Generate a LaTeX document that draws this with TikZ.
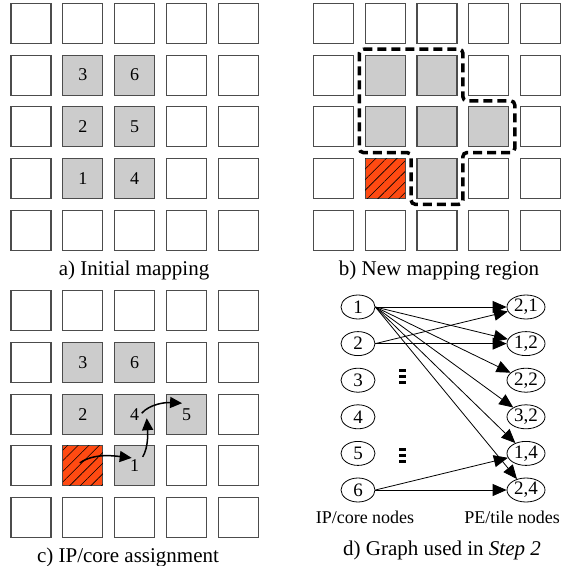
\documentclass[tikz,border=0pt]{standalone}
\usepackage{fontspec}
\setmainfont{Liberation Serif}
\usetikzlibrary{arrows.meta,patterns.meta,calc,shapes.geometric}
\definecolor{cellgray}{HTML}{CCCCCC}
\definecolor{hotred}{HTML}{FF4A12}
\newcommand\mycellnum[2]{\expandafter\def\csname txt-#1\endcsname{#2}}
\mycellnum{a11}{3}\mycellnum{a21}{6}\mycellnum{a12}{2}\mycellnum{a22}{5}\mycellnum{a13}{1}\mycellnum{a23}{4}
\mycellnum{c11}{3}\mycellnum{c21}{6}\mycellnum{c12}{2}\mycellnum{c22}{4}\mycellnum{c32}{5}\mycellnum{c23}{1}
\begin{document}
\begin{tikzpicture}[x=1pt,y=-1pt,
  cell/.style={draw=black!70, line width=1.1pt, minimum size=40pt, inner sep=0pt, font=\fontsize{18}{20}\selectfont},
  busy/.style={fill=cellgray},
  hot/.style={fill=hotred, postaction={pattern={Lines[angle=45,distance=7.5pt,line width=0.6pt]}}},
  a11/.style={busy}, a21/.style={busy}, a12/.style={busy}, a22/.style={busy}, a13/.style={busy}, a23/.style={busy},
  b11/.style={busy}, b21/.style={busy}, b12/.style={busy}, b22/.style={busy}, b32/.style={busy}, b23/.style={busy}, b13/.style={hot},
  c11/.style={busy}, c21/.style={busy}, c12/.style={busy}, c22/.style={busy}, c32/.style={busy}, c23/.style={busy}, c13/.style={hot},
  region/.style={line width=3.5pt, dash pattern=on 9pt off 5pt, rounded corners=4pt},
  carrow/.style={line width=1.5pt, -{Triangle[length=12pt,width=11pt]}},
  gnode/.style={draw, ellipse, line width=0.8pt, minimum height=24pt, inner sep=0pt, font=\fontsize{19}{21}\selectfont},
  lnode/.style={gnode, minimum width=34pt},
  rnode/.style={gnode, minimum width=38pt},
  garrow/.style={line width=0.8pt, -{Triangle[length=14pt,width=12pt]}},
  vdots/.style={line width=7pt, dash pattern=on 3pt off 3pt},
  captext/.style={anchor=base, inner sep=0pt, font=\fontsize{21}{24}\selectfont},
  labtext/.style={anchor=base, inner sep=0pt, font=\fontsize{18}{20}\selectfont}]
\useasboundingbox (0,0) rectangle (562,566);

% panel grids
\foreach \i in {0,...,4}{
  \foreach \j in {0,...,4}{
    \node[cell, a\i\j/.try] (a\i\j) at (31+51.85*\i, 23.4+51.7*\j) {\csname txt-a\i\j\endcsname};
    \node[cell, b\i\j/.try] (b\i\j) at (333.3+51.85*\i, 23.4+51.7*\j) {};
    \node[cell, c\i\j/.try] (c\i\j) at (31+51.85*\i, 310.8+51.7*\j) {\csname txt-c\i\j\endcsname};
  }
}

% panel b: new mapping region
\draw[region] (359.3,49.2) -- (462.9,49.2) -- (462.9,100.85) -- (514.75,100.85)
  -- (514.75,152.55) -- (462.9,152.55) -- (462.9,204.25) -- (411.1,204.25)
  -- (411.1,152.55) -- (359.3,152.55) -- cycle;

% panel c: assignment arrows
\coordinate (p0) at ($(c13)+(-3,-3)$);
\coordinate (p1) at ($(c23)+(-3,-8)$);
\coordinate (p2) at ($(c23)+(8,-9)$);
\coordinate (p3) at ($(c22)+(12,4)$);
\coordinate (p4) at ($(c22)+(7,-1)$);
\coordinate (p5) at ($(c32)+(-4.5,-11)$);
\draw[carrow] (p0) .. controls +(14,-10) and +(-17,-2) .. (p1);
\draw[carrow] (p2) .. controls +(6,-10) and +(1,13) .. (p3);
\draw[carrow] (p4) .. controls +(8,-9) and +(-17,-1) .. (p5);

% panel d: graph
\foreach \k in {1,...,6}{
  \node[lnode] (L\k) at (358, 307+36.6*\k-36.6) {\k};
}
\foreach \k/\t in {1/{2,1},2/{1,2},3/{2,2},4/{3,2},5/{1,4},6/{2,4}}{
  \node[rnode] (R\k) at (526, 307+36.6*\k-36.6) {\t};
}
\foreach \k in {1,...,6}{
  \draw[garrow] (L1.east) -- (R\k);
}
\draw[garrow] (L2.east) -- (R1);
\draw[garrow] (L2.east) -- (R2);
\draw[garrow] (L6.east) -- (R5);
\draw[garrow] (L6.east) -- (R6);
\draw[vdots] (402,369) -- (402,384);
\draw[vdots] (402,448) -- (402,463);

% captions
\node[captext] (capa) at (134,275) {a) Initial mapping};
\node[captext] (capb) at (439,275) {b) New mapping region};
\node[captext] (capc) at (128,562) {c) IP/core assignment};
\node[captext] (capd) at (442,555) {d) Graph used in \textit{Step 2}};
\node[labtext] (labl) at (365,523) {IP/core nodes};
\node[labtext] (labr) at (512,523) {PE/tile nodes};
\end{tikzpicture}
\end{document}
